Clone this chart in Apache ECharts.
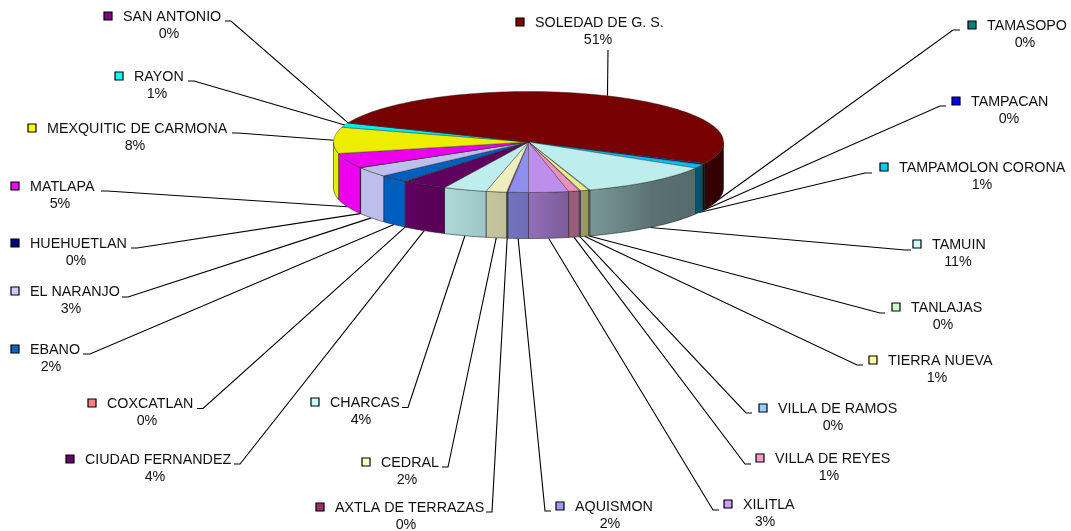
<!DOCTYPE html>
<html>
<head>
<meta charset="utf-8">
<style>
  html, body { margin: 0; padding: 0; background: #fff; }
  #chart { width: 1071px; height: 531px; }
</style>
<script src="https://cdn.jsdelivr.net/npm/echarts@6/dist/echarts.min.js"></script>
</head>
<body>
<div id="chart"></div>
<script>
// municipios, clockwise from six o'clock
const names = ['AQUISMON', 'AXTLA DE TERRAZAS', 'CEDRAL', 'CHARCAS', 'CIUDAD FERNANDEZ', 'COXCATLAN', 'EBANO',
  'EL NARANJO', 'HUEHUETLAN', 'MATLAPA', 'MEXQUITIC DE CARMONA', 'RAYON', 'SAN ANTONIO', 'SOLEDAD DE G. S.',
  'TAMASOPO', 'TAMPACAN', 'TAMPAMOLON CORONA', 'TAMUIN', 'TANLAJAS', 'TIERRA NUEVA', 'VILLA DE RAMOS',
  'VILLA DE REYES', 'XILITLA'];
const values = [1.7, 0.1, 1.7, 3.6, 3.8, 0.05, 2.4, 3.2, 0.05, 4.8, 8.4, 1.4, 0.1, 50.9, 0.1, 0.3, 1.2, 11.3, 0.1, 0.7, 0.1, 0.9, 3.3];
const colors = ['#9999ff', '#993366', '#ffffcc', '#ccffff', '#660066', '#ff8080', '#0066cc', '#ccccff', '#000080',
  '#ff00ff', '#ffff00', '#00ffff', '#800080', '#800000', '#008080', '#0000ff', '#00ccff', '#ccffff', '#ccffcc',
  '#ffff99', '#99ccff', '#ff99cc', '#cc99ff'];

// label layout: key x, key y, stub start x, stub end x (the end joins the leader), stub y, percent x
const labelSpots = [
  [560, 506, 551, 545, 511, 610], [320, 507, 486, 492, 512, 406], [366, 462, 442, 448, 467, 407],
  [315, 402, 402, 408, 407.5, 361], [70, 459, 234, 240, 464, 155], [92, 403, 197, 203, 408.5, 147],
  [15, 349, 83, 90, 354, 51], [15, 291, 122, 128, 297, 71], [15, 243, 131, 137, 248, 76],
  [15, 186, 101, 107, 191, 60], [32, 128, 232, 238, 133, 135], [119, 76, 188, 194, 81, 157],
  [108, 16, 225, 231, 21, 169], [520, 22, 608, 608, 50, 598], [972, 25, 960, 953, 30, 1025],
  [956, 101, 946, 940, 106, 1009], [884, 167, 872, 865, 173, 982], [917, 244, 911, 905, 250, 958],
  [896, 307, 885, 880, 313, 943], [873, 360, 863, 857, 365, 937], [763, 408, 752, 746, 413, 833],
  [760, 458, 751, 745, 464, 829], [728, 504, 719, 713, 510, 765]
];

// pie geometry
const cx = 528.5, cy = 142, rx = 195, ry = 50.5, depth = 46;
const fontName = '"Liberation Sans", Arial, sans-serif';

const total = values.reduce((a, b) => a + b, 0);
let running = 0;
const slices = values.map((v, i) => {
  const start = running / total * 360;
  running += v;
  return [start, running / total * 360, i];
});

// angle is degrees clockwise from the bottom of the ellipse
const rimPoint = (deg, drop) => {
  const a = deg * Math.PI / 180;
  return [cx - rx * Math.sin(a), cy + ry * Math.cos(a) + drop];
};

const shade = (hex, f) => {
  const n = parseInt(hex.slice(1), 16);
  const c = [n >> 16, (n >> 8) & 255, n & 255].map(v => Math.round(v * f));
  return 'rgb(' + c.join(',') + ')';
};

// wall lighting, bright on the left, dark on the right
const lightStops = [[-90, 0.38], [-40, 0.44], [-18, 0.6], [-12, 0.6], [0, 0.72], [12, 0.77], [25, 0.85], [40, 0.93], [90, 0.93]];
const lightAt = deg => {
  const d = deg > 180 ? deg - 360 : deg;
  for (let i = 1; i < lightStops.length; i++) {
    if (d <= lightStops[i][0]) {
      const [a, fa] = lightStops[i - 1], [b, fb] = lightStops[i];
      return fa + (fb - fa) * (d - a) / (b - a);
    }
  }
  return 0.93;
};

const arc = (from, to, drop) => {
  const steps = Math.max(2, Math.ceil(Math.abs(to - from) / 2));
  const pts = [];
  for (let k = 0; k <= steps; k++) pts.push(rimPoint(from + (to - from) * k / steps, drop));
  return pts;
};

const wallShape = (from, to, color) => {
  const topEdge = arc(from, to, 0);
  const xs = topEdge.map(p => p[0]);
  const minX = Math.min(...xs), maxX = Math.max(...xs);
  const stops = [];
  topEdge.forEach((p, k) => {
    const deg = from + (to - from) * k / (topEdge.length - 1);
    stops.push({ offset: maxX > minX ? (p[0] - minX) / (maxX - minX) : 0, color: shade(color, lightAt(deg)) });
  });
  stops.sort((a, b) => a.offset - b.offset);
  return {
    type: 'polygon',
    shape: { points: topEdge.concat(arc(to, from, depth)) },
    style: {
      fill: new echarts.graphic.LinearGradient(0, 0, 1, 0, stops),
      stroke: 'rgba(30,30,30,0.55)',
      lineWidth: 1
    }
  };
};

const renderSlice = (params, api) => {
  const start = api.value(0), end = api.value(1), color = colors[api.value(2)];
  const children = [];
  // only the front half of the rim is visible
  if (start < 90) children.push(wallShape(start, Math.min(end, 90), color));
  if (end > 270) children.push(wallShape(Math.max(start, 270), end, color));
  children.push({
    type: 'polygon',
    shape: { points: [[cx, cy]].concat(arc(start, end, 0)) },
    style: { fill: shade(color, 0.93), stroke: 'rgba(40,40,40,0.5)', lineWidth: 0.8 }
  });
  return { type: 'group', children };
};

const renderLabel = (params, api) => {
  const start = api.value(0), end = api.value(1), i = api.value(2);
  const [keyX, keyY, stubA, stubB, stubY, pctX] = labelSpots[i];
  const mid = (start + end) / 2;
  const onFront = mid < 90 || mid > 270;
  const tip = rimPoint(mid, onFront ? depth : 0);
  const pct = Math.round(values[i] / total * 100) + '%';
  const text = (x, y, t, align) => ({
    type: 'text',
    style: { x, y, text: t, fill: '#111', font: '14.3px ' + fontName, align, verticalAlign: 'middle' }
  });
  return {
    type: 'group',
    children: [
      {
        type: 'polyline',
        shape: { points: [[stubA, stubY], [stubB, stubY], tip] },
        style: { fill: null, stroke: '#000', lineWidth: 1.1 }
      },
      {
        type: 'rect',
        shape: { x: keyX - 4, y: keyY - 4, width: 8, height: 8 },
        style: { fill: colors[i], stroke: '#000', lineWidth: 1.2 }
      },
      text(keyX + 15, keyY + 1.5, names[i], 'left'),
      text(pctX, keyY + 18.5, pct, 'center')
    ]
  };
};

const chart = echarts.init(document.getElementById('chart'), null, { renderer: 'canvas' });
chart.setOption({
  animation: false,
  backgroundColor: '#fff',
  series: [
    { type: 'custom', coordinateSystem: 'none', renderItem: renderLabel, data: slices, z: 1, silent: true },
    { type: 'custom', coordinateSystem: 'none', renderItem: renderSlice, data: slices, z: 2, silent: true }
  ]
});
</script>
</body>
</html>
